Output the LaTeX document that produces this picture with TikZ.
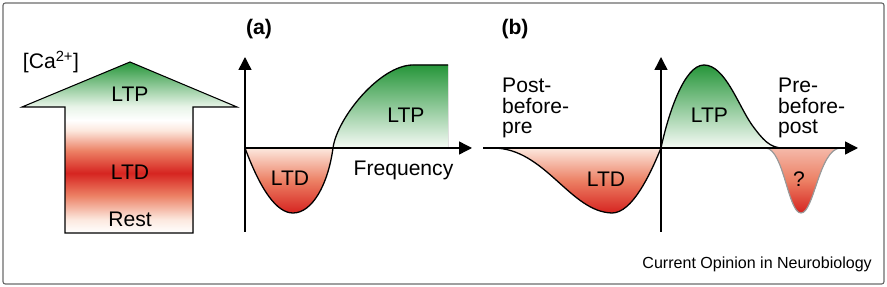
\documentclass[tikz,border=0pt]{standalone}
\usepackage{fontspec}
\setmainfont{Liberation Sans}
\usepackage{xcolor}
\definecolor{ltpGreen}{RGB}{38,150,58}
\definecolor{ltpPale}{RGB}{232,244,232}
\definecolor{ltdRed}{RGB}{214,36,32}
\definecolor{ltdSalmon}{RGB}{236,128,100}
\definecolor{ltdPale}{RGB}{252,232,222}
\definecolor{frameGray}{HTML}{6B6B6B}
\usetikzlibrary{arrows.meta}
\pgfdeclareverticalshading{caShade}{100bp}{color(0bp)=(white); color(25bp)=(white);
  color(29bp)=(ltdPale); color(36bp)=(ltdSalmon); color(42.5bp)=(ltdRed);
  color(49bp)=(ltdSalmon); color(55bp)=(ltdPale); color(58bp)=(white);
  color(62bp)=(ltpPale); color(75bp)=(ltpGreen); color(100bp)=(ltpGreen)}
\pgfdeclareverticalshading{ltdShade}{100bp}{color(0bp)=(ltdRed); color(25bp)=(ltdRed);
  color(50bp)=(ltdSalmon); color(75bp)=(ltdPale); color(100bp)=(ltdPale)}
\pgfdeclareverticalshading{askShade}{100bp}{color(0bp)=(ltdRed); color(25bp)=(ltdRed);
  color(50bp)=(ltdSalmon); color(75bp)=(ltdSalmon!55!white); color(100bp)=(ltdSalmon!55!white)}
\pgfdeclareverticalshading{ltpShade}{100bp}{color(0bp)=(white); color(25bp)=(ltpPale!40!white);
  color(75bp)=(ltpGreen); color(100bp)=(ltpGreen)}

\begin{document}
\begin{tikzpicture}[x=0.03cm, y=-0.03cm,
  font=\fontsize{18}{17.5}\selectfont,
  axisline/.style={line width=1.2pt, -{Triangle[length=11pt,width=11pt]}},
  curveline/.style={line width=1.1pt},
  txt/.style={inner sep=0pt, anchor=base}]
  \useasboundingbox (0,0) rectangle (887,287);
  \draw[frameGray, line width=1pt, rounded corners=2pt] (3,3) rectangle (884,284);

  \filldraw[shading=caShade, draw=black, line width=0.9pt] (130,62) -- (237,107) -- (193,107)
    -- (193,233) -- (65,233) -- (65,107) -- (22,107) -- cycle;
  \node[txt] (ca) at (51,69) {[Ca\textsuperscript{2+}]};
  \node[txt] (ltpArrow) at (130,102) {LTP};
  \node[txt] (ltdArrow) at (130,180) {LTD};
  \node[txt] (rest) at (130,227) {Rest};

  \coordinate (oA) at (245,148);
  \coordinate (aBot) at (245,232);
  \coordinate (aTop) at (245,57);
  \coordinate (aEnd) at (472,148);
  \fill[shading=ltdShade] (245,148) .. controls (261,191) and (277,213) .. (293,213)
    .. controls (312,213) and (328,185) .. (333,148) -- cycle;
  \fill[shading=ltpShade] (333,148) .. controls (337,118) and (380,65) .. (413,65)
    -- (448,65) -- (448,148) -- cycle;
  \draw[curveline] (245,148) .. controls (261,191) and (277,213) .. (293,213)
    .. controls (312,213) and (328,185) .. (333,148)
    .. controls (337,118) and (380,65) .. (413,65) -- (448,65);
  \draw[axisline] (aBot) -- (aTop);
  \draw[axisline] (oA) -- (aEnd);
  \node[txt, font=\fontsize{18}{20}\selectfont\bfseries] (labelA) at (259,35) {(a)};
  \node[txt] (ltdA) at (290,186) {LTD};
  \node[txt] (ltpA) at (406,123) {LTP};
  \node[txt] (freq) at (403.5,176) {Frequency};

  \coordinate (oB) at (661,148);
  \coordinate (bBot) at (661,232);
  \coordinate (bTop) at (661,57);
  \coordinate (bStart) at (483,148);
  \coordinate (bEnd) at (858,148);
  \fill[shading=ltdShade] (493,148) .. controls (545,148) and (570,212) .. (612,213)
    .. controls (632,213) and (650,175) .. (661,148) -- cycle;
  \fill[shading=ltpShade] (661,148) .. controls (668,115) and (684,65) .. (704,65)
    .. controls (725,65) and (738,105) .. (752,125)
    .. controls (763,140) and (770,148) .. (783,148) -- cycle;
  \filldraw[shading=askShade, draw=gray!80, line width=1pt] (766,148)
    .. controls (784,150) and (788,213) .. (801,213)
    .. controls (814,213) and (819,150) .. (840,148);
  \draw[curveline] (493,148) .. controls (545,148) and (570,212) .. (612,213)
    .. controls (632,213) and (650,175) .. (661,148)
    .. controls (668,115) and (684,65) .. (704,65)
    .. controls (725,65) and (738,105) .. (752,125)
    .. controls (763,140) and (770,148) .. (783,148);
  \draw[axisline] (bBot) -- (bTop);
  \draw[axisline] (bStart) -- (bEnd);
  \node[txt, font=\fontsize{18}{20}\selectfont\bfseries] (labelB) at (515,35) {(b)};
  \node[inner sep=0pt, anchor=north west, align=left] (postPre) at (502,78) {Post-\\before-\\pre};
  \node[inner sep=0pt, anchor=north west, align=left] (prePost) at (778,78) {Pre-\\before-\\post};
  \node[txt] (ltpB) at (709.5,123) {LTP};
  \node[txt] (ltdB) at (606,187) {LTD};
  \node[txt] (qB) at (799,187) {?};
  \node[inner sep=0pt, anchor=base east, font=\fontsize{13.7}{16}\selectfont] (journal) at (872,269)
    {Current Opinion in Neurobiology};
\end{tikzpicture}
\end{document}
